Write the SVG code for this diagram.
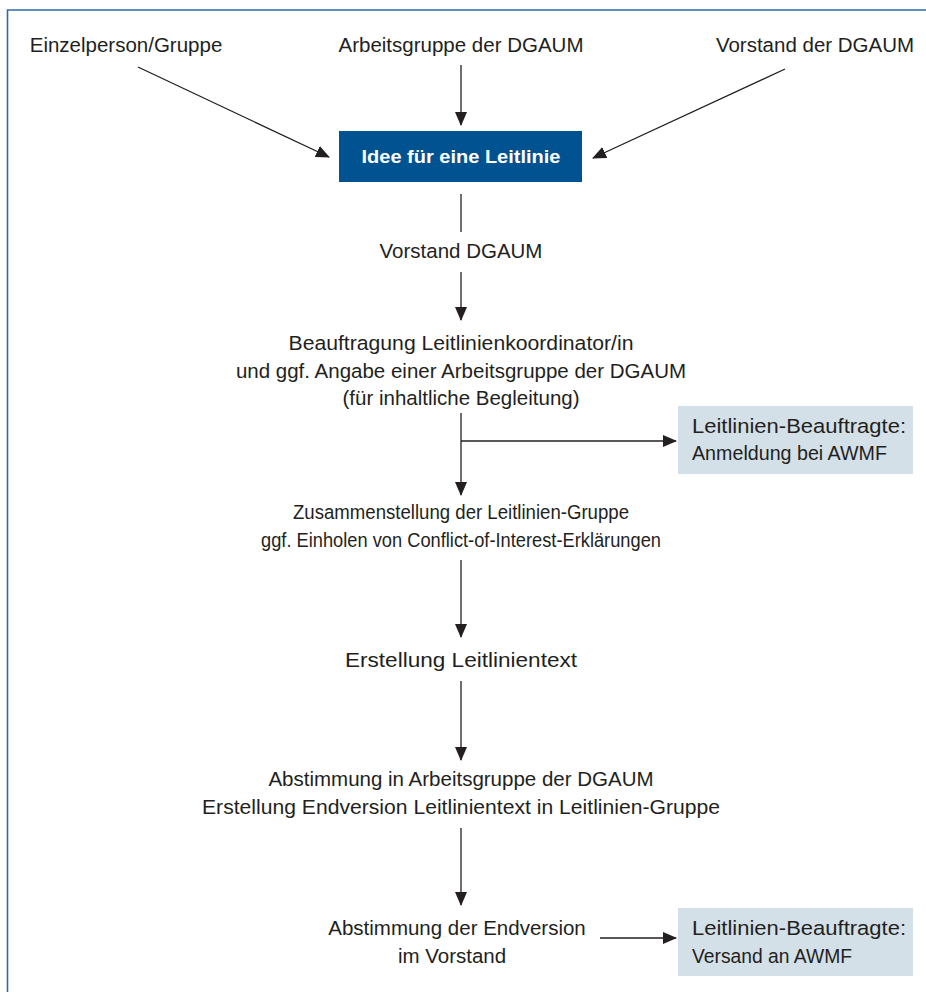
<svg xmlns="http://www.w3.org/2000/svg" width="926" height="992" viewBox="0 0 926 992">
<defs>
<style>
text{font-family:"Liberation Sans",Arial,sans-serif;font-size:20.5px;fill:#231f20}
.c{text-anchor:middle}
.w{fill:#ffffff;font-weight:bold;font-size:19px}
.ln{stroke:#231f20;stroke-width:1.3;fill:none}
</style>
<marker id="ah" markerWidth="14" markerHeight="12" refX="13" refY="6" orient="auto" markerUnits="userSpaceOnUse">
<path d="M0,0 L14,6 L0,12 Z" fill="#231f20"/>
</marker>
</defs>
<rect width="926" height="992" fill="#ffffff"/>
<path d="M7.5,992 V10 H926" fill="none" stroke="#2e6aa6" stroke-width="1.6"/>
<g id="n_einzel"><text x="126" y="52" class="c">Einzelperson/Gruppe</text></g>
<g id="n_arbeit"><text x="461" y="52" class="c">Arbeitsgruppe der DGAUM</text></g>
<g id="n_vorstandder"><text x="815" y="52" class="c">Vorstand der DGAUM</text></g>
<g id="n_idee"><rect x="339" y="131" width="243" height="51" fill="#005290"/><text x="461" y="163" class="c w" textLength="199" lengthAdjust="spacingAndGlyphs">Idee für eine Leitlinie</text></g>
<g id="n_vorstand"><text x="461" y="258" class="c">Vorstand DGAUM</text></g>
<g id="n_beauftragung"><text x="461" y="350" class="c" textLength="345" lengthAdjust="spacingAndGlyphs">Beauftragung Leitlinienkoordinator/in</text><text x="461" y="378" class="c">und ggf. Angabe einer Arbeitsgruppe der DGAUM</text><text x="461" y="405" class="c">(für inhaltliche Begleitung)</text></g>
<g id="n_anmeldung"><rect x="678" y="406" width="235" height="68" fill="#d3e0e8"/><text x="692" y="433" textLength="214" lengthAdjust="spacingAndGlyphs">Leitlinien-Beauftragte:</text><text x="692" y="460" textLength="195" lengthAdjust="spacingAndGlyphs">Anmeldung bei AWMF</text></g>
<g id="n_zusammen"><text x="461" y="519" class="c" textLength="336" lengthAdjust="spacingAndGlyphs">Zusammenstellung der Leitlinien-Gruppe</text><text x="461" y="547" class="c" textLength="400" lengthAdjust="spacingAndGlyphs">ggf. Einholen von Conflict-of-Interest-Erklärungen</text></g>
<g id="n_erstellung"><text x="461" y="667" class="c" textLength="232" lengthAdjust="spacingAndGlyphs">Erstellung Leitlinientext</text></g>
<g id="n_abstimmung"><text x="461" y="786" class="c">Abstimmung in Arbeitsgruppe der DGAUM</text><text x="461" y="814" class="c" textLength="518" lengthAdjust="spacingAndGlyphs">Erstellung Endversion Leitlinientext in Leitlinien-Gruppe</text></g>
<g id="n_endversion"><text x="457" y="935" class="c">Abstimmung der Endversion</text><text x="452" y="963" class="c">im Vorstand</text></g>
<g id="n_versand"><rect x="678" y="908" width="235" height="68" fill="#d3e0e8"/><text x="692" y="935" textLength="214" lengthAdjust="spacingAndGlyphs">Leitlinien-Beauftragte:</text><text x="692" y="963" textLength="160" lengthAdjust="spacingAndGlyphs">Versand an AWMF</text></g>
<g id="connectors">
<line class="ln" x1="138" y1="67" x2="329" y2="157" marker-end="url(#ah)"/>
<line class="ln" x1="461" y1="65" x2="461" y2="125" marker-end="url(#ah)"/>
<line class="ln" x1="785" y1="69" x2="593" y2="158" marker-end="url(#ah)"/>
<line class="ln" x1="461" y1="194" x2="461" y2="232"/>
<line class="ln" x1="461" y1="272" x2="461" y2="320" marker-end="url(#ah)"/>
<line class="ln" x1="461" y1="413" x2="461" y2="495" marker-end="url(#ah)"/>
<line class="ln" x1="461" y1="441" x2="676" y2="441" marker-end="url(#ah)"/>
<line class="ln" x1="461" y1="560" x2="461" y2="637" marker-end="url(#ah)"/>
<line class="ln" x1="461" y1="681" x2="461" y2="760" marker-end="url(#ah)"/>
<line class="ln" x1="461" y1="828" x2="461" y2="905" marker-end="url(#ah)"/>
<line class="ln" x1="600" y1="938" x2="676" y2="938" marker-end="url(#ah)"/>
</g>
</svg>
